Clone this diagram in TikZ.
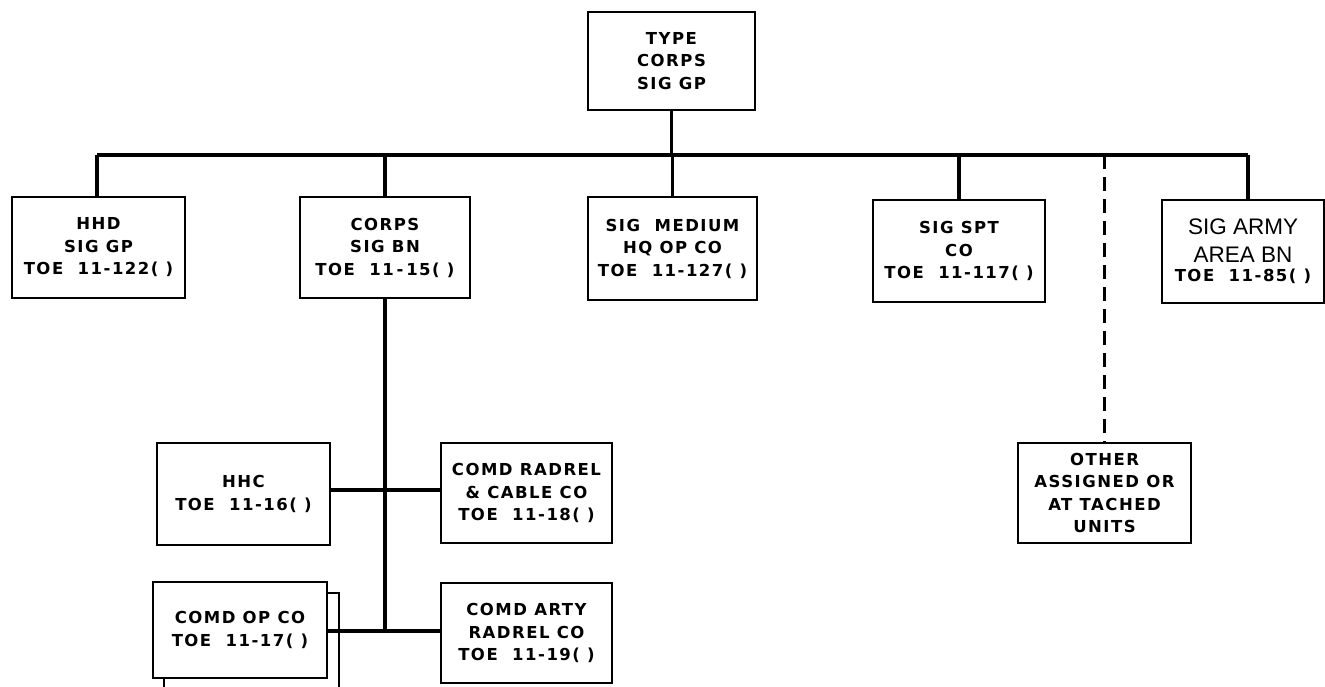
\documentclass[tikz,border=0pt]{standalone}
\usepackage{fontspec}
\setmainfont{DejaVu Sans}[LetterSpace=9]
\newfontfamily\bigfont{Liberation Sans}
\newcommand{\bigline}{\bigfont\mdseries\fontsize{22.5}{23}\selectfont}
\begin{document}
\begin{tikzpicture}[x=1pt,y=-1pt,
  unit/.style={draw,line width=2.2pt,rectangle,inner sep=0pt,align=center,
    font=\bfseries\fontsize{16.5}{22.5}\selectfont,fill=white},
  link/.style={line width=3.4pt},
  dlink/.style={line width=3.4pt,dash pattern=on 14pt off 8pt}]
\useasboundingbox[fill=white] (0,0) rectangle (1325,686);
% nodes
\node[unit,minimum width=167pt,minimum height=98pt] (top) at (671.5,61) {TYPE\\CORPS\\SIG GP};
\node[unit,minimum width=173pt,minimum height=101pt] (hhd) at (98.5,247.5) {HHD\\SIG GP\\TOE\ \ 11-122(\ )};
\node[unit,minimum width=170pt,minimum height=101pt] (corps) at (385,247.5) {CORPS\\SIG BN\\TOE\ \ 11\,-\,15(\ )};
\node[unit,minimum width=169pt,minimum height=103pt] (med) at (672.5,248.5) {SIG\ \ MEDIUM\\HQ OP CO\\TOE\ \ 11-127(\ )};
\node[unit,minimum width=172pt,minimum height=102pt] (spt) at (959,251) {SIG SPT\\CO\\TOE\ \ 11-117(\ )};
\node[unit,minimum width=162pt,minimum height=103pt] (army) at (1243,251.5) {{\bigline SIG ARMY}\\[5pt]{\bigline AREA BN}\\[-3pt]TOE\ \ 11-85(\ )};
\node[unit,minimum width=173pt,minimum height=100pt] (other) at (1104.5,493) {OTHER\\ASSIGNED OR\\AT TACHED\\UNITS};
\node[unit,minimum width=173pt,minimum height=102pt] (hhc) at (243.5,494) {HHC\\TOE\ \ 11-16(\ )};
\node[unit,minimum width=171pt,minimum height=100pt] (radrel) at (526.5,493) {COMD RADREL\\\& CABLE CO\\TOE\ \ 11-18(\ )};
\draw[line width=2.2pt] (164,700) |- (339,593) -- (339,700);
\node[unit,minimum width=174pt,minimum height=96pt] (opco) at (240,630) {COMD OP CO\\TOE\ \ 11-17(\ )};
\node[unit,minimum width=171pt,minimum height=100pt] (arty) at (526.5,633) {COMD ARTY\\RADREL CO\\TOE\ \ 11-19(\ )};
% bus
\coordinate (busL) at (97,155);
\coordinate (busR) at (1248,155);
\coordinate (armydrop) at (1248,200);
\coordinate (bnend) at (387,631);
\coordinate (bnmid) at (387,490);
\draw[link] (busL) -- (busR);
\draw[link] (top.south) -- (top.south |- busL);
\draw[link] (busL) -- (hhd.north -| busL);
\draw[link] (corps.north |- busL) -- (corps.north);
\draw[link] (med.north |- busL) -- (med.north);
\draw[link] (spt.north |- busL) -- (spt.north);
\draw[link] (busR) -- (armydrop);
\draw[dlink] (other.north |- busL) -- (other.north);
% battalion
\draw[link] (corps.south) -- (corps.south |- bnend);
\draw[link] (hhc.east |- bnmid) -- (radrel.west |- bnmid);
\draw[link] (opco.east |- bnend) -- (arty.west |- bnend);
\end{tikzpicture}
\end{document}
